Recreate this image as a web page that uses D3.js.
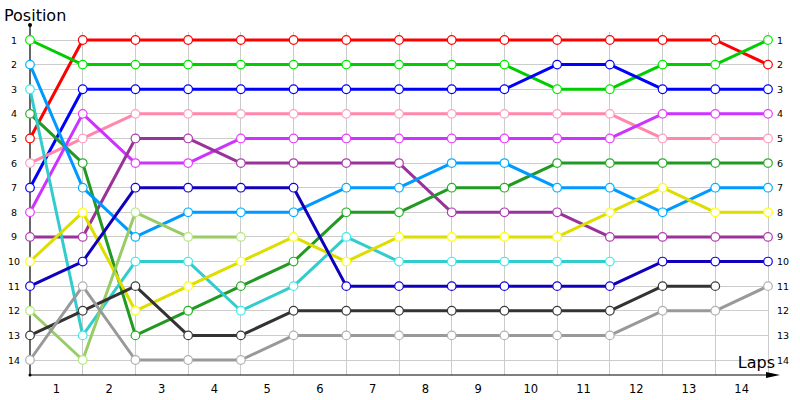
<!DOCTYPE html>
<html><head><meta charset="utf-8">
<script src="https://cdn.jsdelivr.net/npm/d3@7"></script>
<style>body{margin:0;background:#fff}svg{display:block}</style>
</head><body><div id="chart"></div>
<script>
const laps = ["1","2","3","4","5","6","7","8","9","10","11","12","13","14"];
const positions = [1,2,3,4,5,6,7,8,9,10,11,12,13,14];
const seriesNames = ["red","green","blue","pink","violet","purple","darkgreen","lightblue","cyan","yellow","navy","lightgreen","darkgray","gray"];
const seriesColors = ["#ff0000","#00cc00","#0000ff","#ff88aa","#cc33ff","#993399","#229922","#0099ff","#33cccc","#dddd00","#1100bb","#99cc66","#333333","#999999"];
const seriesValues = [
  [5,1,1,1,1,1,1,1,1,1,1,1,1,1,2],
  [1,2,2,2,2,2,2,2,2,2,3,3,2,2,1],
  [7,3,3,3,3,3,3,3,3,3,2,2,3,3,3],
  [6,5,4,4,4,4,4,4,4,4,4,4,5,5,5],
  [8,4,6,6,5,5,5,5,5,5,5,5,4,4,4],
  [9,9,5,5,6,6,6,6,8,8,8,9,9,9,9],
  [4,6,13,12,11,10,8,8,7,7,6,6,6,6,6],
  [2,7,9,8,8,8,7,7,6,6,7,7,8,7,7],
  [3,13,10,10,12,11,9,10,10,10,10,10],
  [10,8,12,11,10,9,10,9,9,9,9,8,7,8,8],
  [11,10,7,7,7,7,11,11,11,11,11,11,10,10,10],
  [12,14,8,9,9],
  [13,12,11,13,13,12,12,12,12,12,12,12,11,11],
  [14,11,14,14,14,13,13,13,13,13,13,13,12,12,11]
];

const W = 800, H = 400;
const svg = d3.select("#chart").append("svg").attr("width", W).attr("height", H);
const x = d3.scaleLinear().domain([0, laps.length]).range([30, 768]);
const y = d3.scaleLinear().domain([1, 14]).range([40, 360]);
const font = "DejaVu Sans, Verdana, sans-serif";

// grid
const g = svg.append("g");
g.selectAll("line.h").data(positions).join("line")
  .attr("x1", x(0)).attr("x2", x(laps.length))
  .attr("y1", d => y(d)).attr("y2", d => y(d))
  .attr("stroke", "#cccccc").attr("stroke-width", 1).attr("shape-rendering","crispEdges");
g.selectAll("line.v").data(d3.range(1, laps.length + 1)).join("line")
  .attr("x1", d => x(d)).attr("x2", d => x(d))
  .attr("y1", 32).attr("y2", 375)
  .attr("stroke", "#cccccc").attr("stroke-width", 1).attr("shape-rendering","crispEdges");

// axes
svg.append("line").attr("x1", 30).attr("x2", 30).attr("y1", 25).attr("y2", 375)
  .attr("stroke", "#000").attr("stroke-width", 1.2);
svg.append("circle").attr("cx", 30).attr("cy", 25).attr("r", 2).attr("fill", "#000");
svg.append("circle").attr("cx", 30).attr("cy", 375).attr("r", 1.5).attr("fill", "#000");
svg.append("line").attr("x1", 30).attr("x2", 772).attr("y1", 375).attr("y2", 375)
  .attr("stroke", "#000").attr("stroke-width", 1.2);
svg.append("path").attr("d", "M766,372 L780,375 L766,378 Z").attr("fill", "#000");

// labels
svg.selectAll("text.yl").data(positions).join("text")
  .attr("x", 14).attr("y", d => y(d) + 3.5).attr("text-anchor", "middle")
  .attr("font-family", font).attr("font-size", 9.5).attr("fill", "#000").text(d => d);
svg.selectAll("text.yr").data(positions).join("text")
  .attr("x", 777).attr("y", d => y(d) + 3.5).attr("text-anchor", "start")
  .attr("font-family", font).attr("font-size", 9.5).attr("fill", "#000").text(d => d);
svg.selectAll("text.xl").data(laps).join("text")
  .attr("x", (d, i) => x(i + 0.5)).attr("y", 393).attr("text-anchor", "middle")
  .attr("font-family", font).attr("font-size", 11.5).attr("fill", "#000").text(d => d);
svg.append("text").attr("x", 4).attr("y", 21).attr("font-family", font).attr("font-size", 16)
  .attr("fill", "#000").text("Position");
svg.append("text").attr("x", 775).attr("y", 368).attr("text-anchor", "end").attr("font-family", font)
  .attr("font-size", 16).attr("fill", "#000").text("Laps");

// series
const line = d3.line().x((d, i) => x(i)).y(d => y(d));
seriesValues.forEach((vals, si) => {
  const col = seriesColors[si];
  const sg = svg.append("g").attr("class", seriesNames[si]);
  sg.append("path").attr("d", line(vals)).attr("fill", "none")
    .attr("stroke", col).attr("stroke-width", 3).attr("stroke-linejoin", "round");
});
seriesValues.forEach((vals, si) => {
  const col = d3.color(seriesColors[si]).brighter(0.4);
  svg.append("g").selectAll("circle").data(vals).join("circle")
    .attr("cx", (d, i) => x(i)).attr("cy", d => y(d)).attr("r", 4.3)
    .attr("fill", "#fff").attr("stroke", col).attr("stroke-width", 1.2);
});
</script></body></html>
